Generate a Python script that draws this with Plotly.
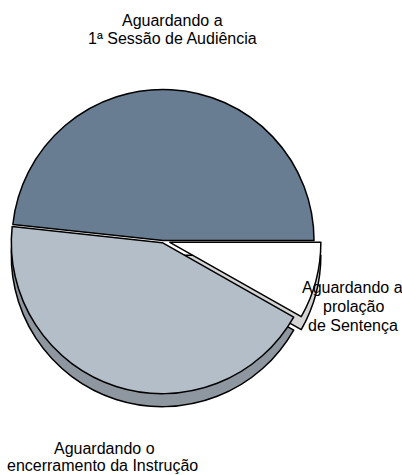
import plotly.graph_objects as go

# Data (percent shares), ordered clockwise from 3 o'clock
categories = [
    "Aguardando a prolação de Sentença",
    "Aguardando o encerramento da Instrução",
    "Aguardando a 1ª Sessão de Audiência",
]
values = [8.2, 43.5, 48.3]

# Label text lines (shown as annotations)
label_lines = {
    "Aguardando a 1ª Sessão de Audiência": ["Aguardando a", "1ª Sessão de Audiência"],
    "Aguardando o encerramento da Instrução": ["Aguardando o", "encerramento da Instrução"],
    "Aguardando a prolação de Sentença": ["Aguardando a", "prolação", "de Sentença"],
}

# Styles
W, H = 402, 475
face_colors = ["#ffffff", "#b3bec8", "#687d92"]
side_colors = ["#d4d4d4", "#8e979f", "rgba(0,0,0,0)"]
side_line_w = [1.5, 1.5, 0]
pulls = [0.047, 0.015, 0.0]

cx, cy, r = 163, 240.5, 151          # pie centre (px from top-left) and radius
depth = 13                           # apparent 3-D thickness
half = r * (1 + max(pulls))


def dom(cy_px):
    yb = H - cy_px
    return dict(x=[(cx - half) / W, (cx + half) / W],
                y=[(yb - half) / H, (yb + half) / H])


fig = go.Figure()
# side / thickness layer
fig.add_trace(go.Pie(
    labels=categories, values=values, sort=False, direction="clockwise",
    rotation=90, pull=pulls, textinfo="none", hoverinfo="skip",
    marker=dict(colors=side_colors, line=dict(color="#000000", width=side_line_w)),
    domain=dom(cy + depth), showlegend=False,
))
# top face layer
fig.add_trace(go.Pie(
    labels=categories, values=values, sort=False, direction="clockwise",
    rotation=90, pull=pulls, textinfo="none",
    marker=dict(colors=face_colors, line=dict(color="#000000", width=1.5)),
    domain=dom(cy), showlegend=False,
))

# label positions (px) for each line
label_pos = {
    "Aguardando a 1ª Sessão de Audiência": [(172.5, 20), (172.5, 39)],
    "Aguardando o encerramento da Instrução": [(104, 448), (102, 465)],
    "Aguardando a prolação de Sentença": [(352.5, 287), (353, 306), (353, 325)],
}

annotations = []
for cat in categories:
    for text, (px, py) in zip(label_lines[cat], label_pos[cat]):
        annotations.append(dict(
            text=text, x=px / W, y=1 - py / H, xref="paper", yref="paper",
            xanchor="center", yanchor="middle", showarrow=False,
            font=dict(family="Liberation Sans, Arial, sans-serif", size=16, color="#000000"),
        ))

fig.update_layout(
    width=W, height=H,
    margin=dict(l=0, r=0, t=0, b=0),
    paper_bgcolor="#ffffff", plot_bgcolor="#ffffff",
    annotations=annotations,
    showlegend=False,
)

fig.write_html(
    "out.html",
    config={"displayModeBar": False},
    post_script="document.body.style.margin='0';document.body.style.overflow='hidden';",
)
